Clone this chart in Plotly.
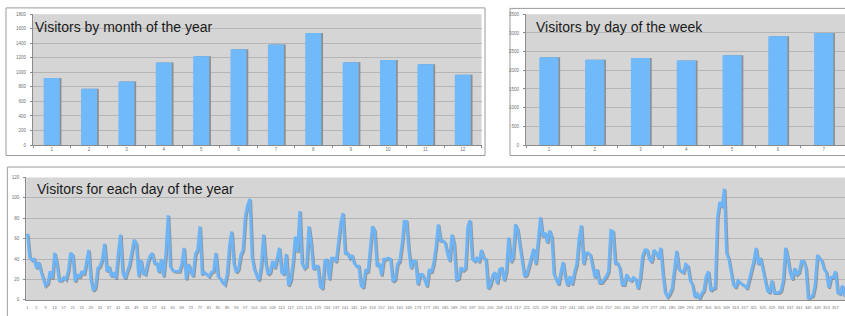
import plotly.graph_objects as go

# ---------------- data ----------------
months = list(range(1, 13))
month_labels = [str(m) for m in months]
month_visitors = [923, 774, 873, 1136, 1222, 1317, 1385, 1543, 1140, 1172, 1113, 968]
month_yticks = list(range(0, 1801, 200))

weekdays = list(range(1, 8))
weekday_labels = [str(d) for d in weekdays]
weekday_visitors = [2350, 2280, 2333, 2263, 2403, 2912, 3000]
week_yticks = list(range(0, 3501, 500))

days = list(range(1, 366))
day_labels_vals = list(range(1, 366, 4))
day_labels = [str(d) for d in day_labels_vals]
day_yticks = list(range(0, 121, 20))
day_visitors = [
    65, 42, 39, 40, 31, 37, 28, 20, 14, 16,
    28, 21, 46, 36, 19, 19, 22, 20, 28, 46,
    44, 18, 25, 22, 28, 25, 37, 49, 20, 9,
    12, 31, 33, 40, 55, 28, 33, 23, 27, 21,
    45, 64, 27, 21, 28, 34, 47, 59, 55, 23,
    39, 26, 25, 36, 43, 46, 36, 36, 27, 40,
    23, 46, 83, 33, 29, 28, 28, 28, 35, 51,
    20, 35, 28, 23, 45, 49, 72, 26, 27, 25,
    23, 27, 28, 46, 23, 21, 17, 15, 25, 53,
    67, 35, 27, 30, 44, 49, 82, 93, 99, 42,
    30, 24, 19, 33, 64, 36, 25, 27, 38, 31,
    42, 51, 27, 25, 45, 14, 19, 36, 62, 47,
    87, 36, 31, 33, 72, 56, 30, 33, 33, 13,
    11, 38, 40, 20, 41, 41, 37, 56, 75, 85,
    46, 46, 41, 44, 36, 33, 33, 14, 12, 30,
    27, 50, 72, 68, 33, 36, 24, 40, 40, 41,
    40, 18, 20, 35, 38, 54, 77, 77, 49, 31,
    38, 38, 15, 25, 25, 20, 13, 30, 27, 36,
    52, 74, 58, 58, 56, 46, 38, 64, 55, 20,
    21, 32, 29, 31, 72, 78, 40, 38, 41, 37,
    49, 41, 40, 11, 15, 24, 27, 16, 30, 31,
    19, 28, 61, 37, 42, 74, 69, 53, 38, 23,
    25, 33, 40, 50, 35, 55, 81, 62, 66, 56,
    68, 62, 25, 20, 15, 27, 37, 22, 14, 23,
    15, 27, 35, 60, 73, 35, 46, 46, 44, 33,
    22, 30, 17, 17, 20, 23, 28, 68, 67, 36,
    36, 31, 15, 15, 25, 20, 19, 22, 20, 11,
    22, 43, 49, 49, 40, 37, 49, 46, 41, 51,
    25, 7, 3, 6, 11, 30, 48, 30, 28, 27,
    35, 33, 19, 15, 3, 6, 1, 6, 9, 23,
    28, 9, 11, 12, 81, 96, 91, 109, 46, 40,
    27, 15, 12, 19, 17, 15, 14, 11, 20, 28,
    38, 51, 35, 41, 30, 22, 9, 7, 19, 7,
    7, 7, 9, 19, 51, 41, 27, 20, 31, 25,
    27, 38, 38, 31, 1, 3, 4, 14, 44, 41,
    38, 30, 27, 12, 22, 22, 28, 7, 6, 14,
    4, 10, 15, 12, 8,
]

titles = ["Visitors by month of the year", "Visitors by day of the week",
          "Visitors for each day of the year"]

# ---------------- layout helpers ----------------
W, H = 845, 316


def fx(x):
    return x / W


def fy(y):
    return 1 - y / H


BAR = "#70b9fa"
SHADOW = "#8d8d8d"
LINE = "#6cb4f5"
PLOT_BG = "#d5d5d5"
GRID = "#b5b5b5"
AXIS = "#8a8a8a"
TICKFONT = dict(family="Liberation Sans, Arial, sans-serif", size=4.5, color="#707070")
TICKFONT_DAY = dict(family="Liberation Sans, Arial, sans-serif", size=4, color="#707070")
TITLEFONT = dict(family="Liberation Sans, Arial, sans-serif", size=14, color="#1a1a1a")

fig = go.Figure()

# month bars (shadow + bar)
fig.add_trace(go.Bar(x=months, y=month_visitors, width=0.43, offset=-0.215 + 0.045,
                     marker=dict(color=SHADOW, line=dict(width=0)),
                     xaxis="x", yaxis="y", hoverinfo="skip", showlegend=False))
fig.add_trace(go.Bar(x=months, y=month_visitors, width=0.43, offset=-0.215,
                     marker=dict(color=BAR, line=dict(width=0)),
                     xaxis="x", yaxis="y", showlegend=False))

# weekday bars
fig.add_trace(go.Bar(x=weekdays, y=weekday_visitors, width=0.42, offset=-0.21 + 0.035,
                     marker=dict(color=SHADOW, line=dict(width=0)),
                     xaxis="x2", yaxis="y2", hoverinfo="skip", showlegend=False))
fig.add_trace(go.Bar(x=weekdays, y=weekday_visitors, width=0.42, offset=-0.21,
                     marker=dict(color=BAR, line=dict(width=0)),
                     xaxis="x2", yaxis="y2", showlegend=False))

# daily line (shadow + line)
fig.add_trace(go.Scatter(x=[d + 0.45 for d in days], y=[v - 1.0 for v in day_visitors],
                         mode="lines", line=dict(color="rgba(95,95,95,0.55)", width=2.6),
                         xaxis="x3", yaxis="y3", hoverinfo="skip", showlegend=False))
fig.add_trace(go.Scatter(x=days, y=day_visitors, mode="lines",
                         line=dict(color=LINE, width=2.8),
                         xaxis="x3", yaxis="y3", showlegend=False))

# panel geometry (pixels)
m_left, m_right, m_top, m_bot = 33, 481.5, 12.5, 145.3
w_left, w_top, w_bot = 526, 12.5, 145.3
d_left, d_top, d_bot = 26.2, 178.3, 302.7

shapes = [
    # panel frames
    dict(type="rect", xref="paper", yref="paper", x0=fx(6), x1=fx(485), y0=fy(156), y1=fy(6),
         fillcolor="white", line=dict(color="#9a9a9a", width=1), layer="below"),
    dict(type="rect", xref="paper", yref="paper", x0=fx(510), x1=fx(860), y0=fy(156), y1=fy(6.5),
         fillcolor="white", line=dict(color="#9a9a9a", width=1), layer="below"),
    dict(type="rect", xref="paper", yref="paper", x0=fx(7.3), x1=fx(860), y0=fy(330), y1=fy(167.7),
         fillcolor="white", line=dict(color="#9a9a9a", width=1), layer="below"),
    # grey plot areas
    dict(type="rect", xref="paper", yref="paper", x0=fx(m_left), x1=fx(m_right), y0=fy(m_bot), y1=fy(m_top),
         fillcolor=PLOT_BG, line=dict(width=0), layer="below"),
    dict(type="rect", xref="paper", yref="paper", x0=fx(w_left), x1=fx(860), y0=fy(w_bot), y1=fy(w_top),
         fillcolor=PLOT_BG, line=dict(width=0), layer="below"),
    dict(type="rect", xref="paper", yref="paper", x0=fx(d_left), x1=fx(860), y0=fy(d_bot), y1=fy(d_top),
         fillcolor=PLOT_BG, line=dict(width=0), layer="below"),
]

annotations = [
    dict(text=titles[0], xref="paper", yref="paper", x=fx(33), y=fy(25.5), xanchor="left",
         yanchor="middle", showarrow=False, font=TITLEFONT),
    dict(text=titles[1], xref="paper", yref="paper", x=fx(533.5), y=fy(25.0), xanchor="left",
         yanchor="middle", showarrow=False, font=TITLEFONT),
    dict(text=titles[2], xref="paper", yref="paper", x=fx(34.5), y=fy(189.8), xanchor="left",
         yanchor="middle", showarrow=False, font=TITLEFONT),
]


def xaxis_style(domain, rng, tickvals, ticktext, anchor, font=TICKFONT):
    return dict(domain=domain, range=rng, tickmode="array", tickvals=tickvals, ticktext=ticktext,
                tickfont=font, tickangle=0, showgrid=False, zeroline=False, showline=True,
                linecolor=AXIS, linewidth=1, ticks="", anchor=anchor, fixedrange=True,
                minor=dict(ticks="outside", tick0=0.5, dtick=1, ticklen=2, tickcolor=AXIS,
                           showgrid=False))


def yaxis_style(domain, rng, tickvals, anchor):
    return dict(domain=domain, range=rng, tickmode="array", tickvals=tickvals,
                ticktext=[str(t) for t in tickvals], tickfont=TICKFONT, showgrid=True,
                gridcolor=GRID, gridwidth=1, zeroline=False, showline=True, linecolor=AXIS,
                linewidth=1, ticks="outside", ticklen=2, tickcolor=AXIS, anchor=anchor,
                fixedrange=True, ticklabelstandoff=3)


fig.update_layout(
    width=W, height=H, margin=dict(l=0, r=0, t=0, b=0),
    paper_bgcolor="white", plot_bgcolor="rgba(0,0,0,0)",
    barmode="overlay", showlegend=False,
    shapes=shapes, annotations=annotations,
    xaxis=xaxis_style([fx(m_left), fx(m_right)], [0.5, 12.5], months, month_labels, "y"),
    yaxis=yaxis_style([fy(m_bot), fy(m_top)], [0, 1800], month_yticks, "x"),
    xaxis2=xaxis_style([fx(w_left), 1.0], [0.5, 0.5 + (W - w_left) / 45.8], weekdays,
                       weekday_labels, "y2"),
    yaxis2=yaxis_style([fy(w_bot), fy(w_top)], [0, 3500], week_yticks, "x2"),
    xaxis3=xaxis_style([fx(d_left), 1.0], [0.5, 0.5 + (W - d_left) / 2.27], day_labels_vals,
                       day_labels, "y3", font=TICKFONT_DAY),
    yaxis3=yaxis_style([fy(d_bot), fy(d_top)], [0, 120], day_yticks, "x3"),
)
fig.update_layout(xaxis3=dict(minor=dict(ticks="", dtick=4), ticklabelstandoff=3))

fig.write_html("out.html", config={"displayModeBar": False},
               post_script="document.body.style.margin='0';document.body.style.overflow='hidden';")
